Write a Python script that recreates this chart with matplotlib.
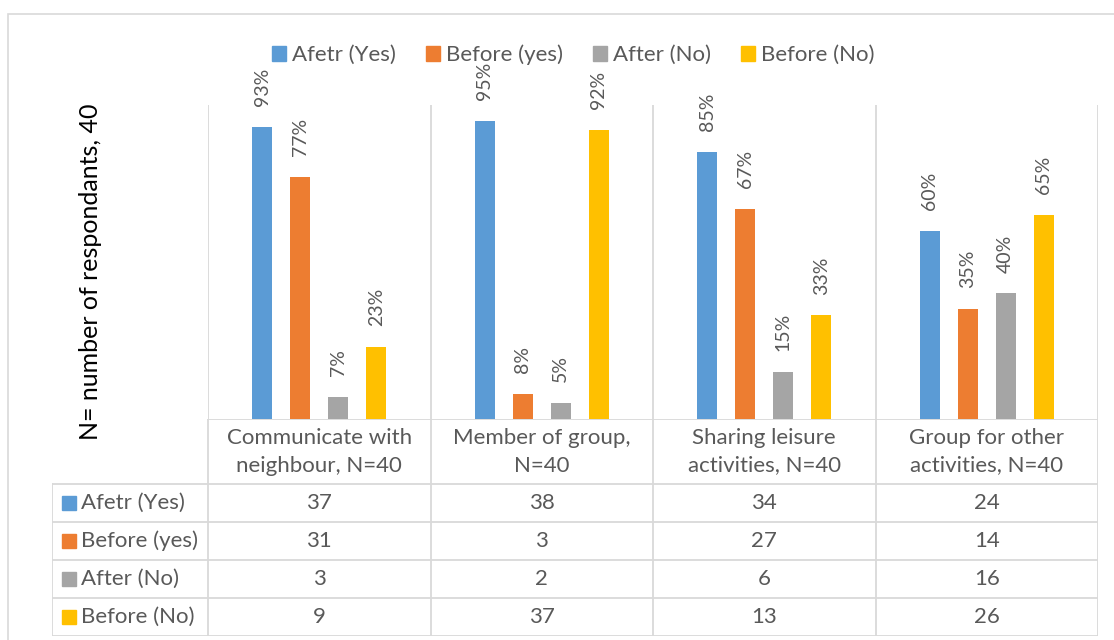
import matplotlib
matplotlib.use("Agg")
import matplotlib.pyplot as plt
from matplotlib.patches import Rectangle
import numpy as np

plt.rcParams['font.family'] = ['Lato', 'DejaVu Sans']

categories = ["Communicate with\nneighbour, N=40", "Member of group,\nN=40",
              "Sharing leisure\nactivities, N=40", "Group for other\nactivities, N=40"]
series = ["Afetr (Yes)", "Before (yes)", "After (No)", "Before (No)"]
colors = ["#5B9BD5", "#ED7D31", "#A5A5A5", "#FFC000"]
# percentages shown as bar labels
pct_after_yes = [93, 95, 85, 60]
pct_before_yes = [77, 8, 67, 35]
pct_after_no = [7, 5, 15, 40]
pct_before_no = [23, 92, 33, 65]
# counts shown in the data table
cnt_after_yes = [37, 38, 34, 24]
cnt_before_yes = [31, 3, 27, 14]
cnt_after_no = [3, 2, 6, 16]
cnt_before_no = [9, 37, 13, 26]

pcts = [pct_after_yes, pct_before_yes, pct_after_no, pct_before_no]
cnts = [cnt_after_yes, cnt_before_yes, cnt_after_no, cnt_before_no]

W, H = 1114, 640
fig = plt.figure(figsize=(W / 100, H / 100), dpi=100)
GRID = "#D9D9D9"
TXT = "#595959"

# outer chart border
fig.patches.append(Rectangle((8 / W, -0.1), 1.2, 1.1 - 14 / H, transform=fig.transFigure,
                             fill=False, edgecolor=GRID, lw=1.2))

# bar axes
x0, x1 = 208, 1098
base, top = 419, 105
ax = fig.add_axes([x0 / W, 1 - base / H, (x1 - x0) / W, (base - top) / H])
ax.set_xlim(-0.5, 3.5)
ax.set_ylim(0, 100)
ax.axis("off")
xs = np.arange(len(categories))
spacing = 38 / 222.5
bw = 20 / 222.5
for i, (vals, c) in enumerate(zip(pcts, colors)):
    pos = xs + (i - 1.5) * spacing
    bars = ax.bar(pos, vals, width=bw, color=c, zorder=3)
    for b, v in zip(bars, vals):
        ax.annotate(f"{v}%", (b.get_x() + b.get_width() / 2, v), xytext=(0, 15),
                    textcoords="offset points", rotation=90, ha="center", va="bottom",
                    color=TXT, fontsize=14)
for xv in np.arange(-0.5, 4, 1):
    ax.axvline(xv, color=GRID, lw=1.3, zorder=1)

# table axes
tl = 52
hdr_w = (x0 - tl) / 222.5
tab = fig.add_axes([tl / W, 1 - 636 / H, (x1 - tl) / W, (636 - base) / H])
hdr_h = 65 / 38.0
tab.set_xlim(-0.5 - hdr_w, 3.5)
tab.set_ylim(4, -hdr_h)
tab.axis("off")
# category axis line
tab.plot([-0.5, 3.5], [-hdr_h, -hdr_h], color=GRID, lw=1.3)
for yv in range(5):
    tab.plot([-0.5 - hdr_w, 3.5], [yv, yv], color=GRID, lw=1.3)
tab.plot([-0.5 - hdr_w, -0.5 - hdr_w], [0, 4], color=GRID, lw=1.3)
for xv in np.arange(-0.5, 4, 1):
    tab.plot([xv, xv], [-hdr_h, 4], color=GRID, lw=1.3)
for j, cat in enumerate(categories):
    tab.text(j, -hdr_h / 2, cat, ha="center", va="center", color=TXT, fontsize=16,
             linespacing=1.5)
key = 14 / 222.5
for i, (name, c, vals) in enumerate(zip(series, colors, cnts)):
    yc = i + 0.5
    tab.add_patch(Rectangle((-0.5 - hdr_w + 10 / 222.5, yc - 0.19), key, 0.38, color=c))
    tab.text(-0.5 - hdr_w + 29 / 222.5, yc, name, ha="left", va="center", color=TXT, fontsize=16)
    for j, v in enumerate(vals):
        tab.text(j, yc, str(v), ha="center", va="center", color=TXT, fontsize=16)

# legend
handles = [Rectangle((0, 0), 1, 1, color=c) for c in colors]
fig.legend(handles, series, loc="center", bbox_to_anchor=(573 / W, 1 - 55 / H), ncol=4,
           frameon=False, fontsize=16, handlelength=0.65, handleheight=0.65,
           handletextpad=0.25, columnspacing=1.35, labelcolor=TXT)

# y label
fig.text(91 / W, 1 - 272 / H, "N= number of respondants, 40", rotation=90, ha="center",
         va="center", fontsize=18, color="black")

fig.savefig("out.png", dpi=100)
